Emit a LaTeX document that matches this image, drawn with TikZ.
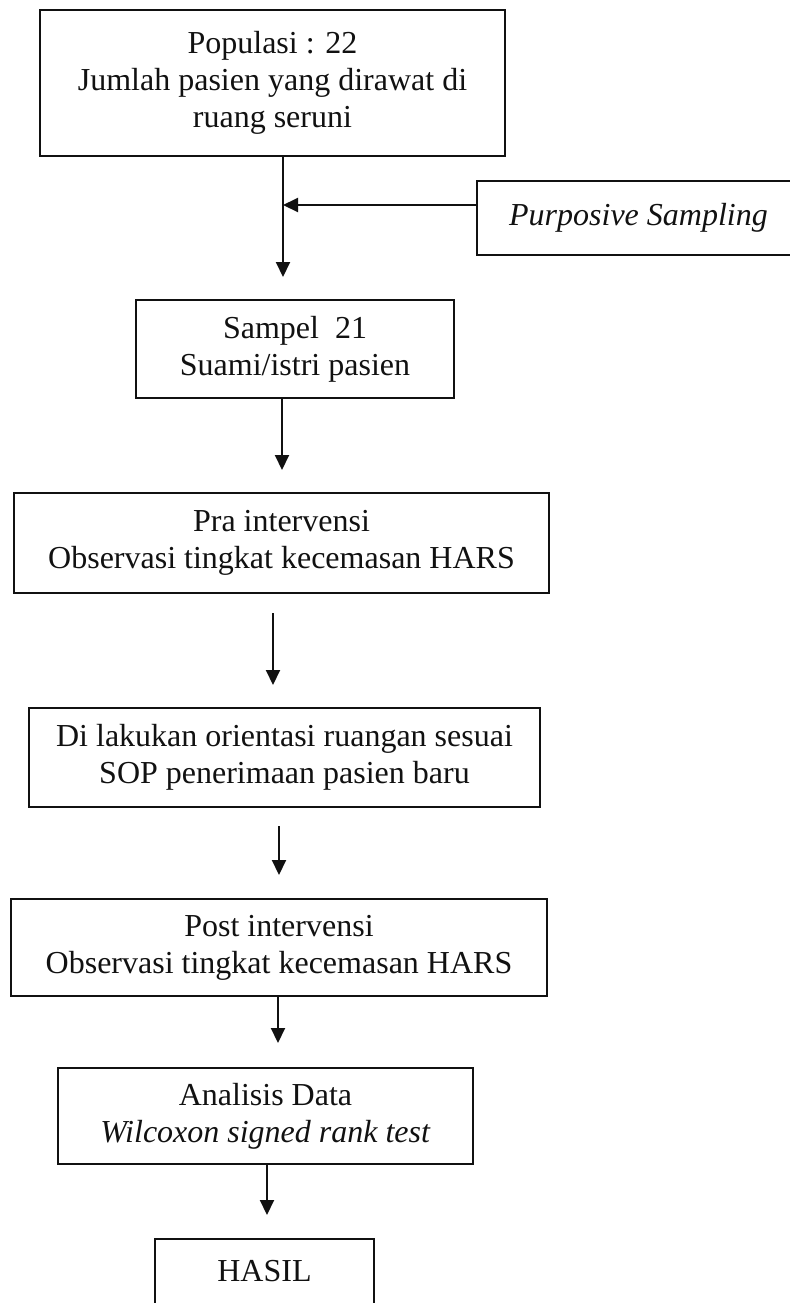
\documentclass[tikz,border=0pt]{standalone}
\usepackage{fontspec}
\setmainfont{Liberation Serif}
\usetikzlibrary{arrows.meta, calc}
\definecolor{Ink}{HTML}{111111}
\tikzset{
  box/.style={
    rectangle, draw=Ink, text=Ink,
    font=\fontsize{16}{18.5}\selectfont, align=center,
    inner sep=0pt, line width=1.2pt,
  },
  arr/.style={
    -{Triangle[length=7.5pt,width=7pt]},
    line width=1pt, color=Ink,
  },
}

\begin{document}
\begin{tikzpicture}[x=0.5pt,y=-0.5pt]
  \useasboundingbox (0,0) rectangle (789,1303);

    % main column
    \node[box, minimum width=232.5pt, minimum height=73pt] (pop) at (272.5,83)
          {Populasi : 22\\Jumlah pasien yang dirawat di\\ruang seruni};
    \node[box, minimum width=161.5pt, minimum height=37pt] (purp) at (638.5,218)
          {\textit{Purposive Sampling}};
    \node[box, minimum width=159pt, minimum height=49pt] (samp) at (295,349)
          {Sampel\ \ 21\\Suami/istri pasien};
    \node[box, minimum width=267.5pt, minimum height=50pt] (pra) at (281.5,543)
          {Pra intervensi\\Observasi tingkat kecemasan HARS};
    \node[box, minimum width=255.5pt, minimum height=49.5pt] (sop) at (284.5,757.5)
          {Di lakukan orientasi ruangan sesuai\\SOP penerimaan pasien baru};
    \node[box, minimum width=268pt, minimum height=48.5pt] (post) at (279,947.5)
          {Post intervensi\\Observasi tingkat kecemasan HARS};
    \node[box, minimum width=207.5pt, minimum height=48pt] (anal) at (265.5,1116)
          {Analisis Data\\\textit{Wilcoxon signed rank test}};
    \node[box, minimum width=109.5pt, text height=21pt, text depth=30pt,
          anchor=north] (hasil) at (264.5,1238) {HASIL};

    % arrow ends
    \coordinate (j1) at (283,205);
    \coordinate (t1) at (283,277);
    \coordinate (t2) at (282,470);
    \coordinate (s3) at (273,613);
    \coordinate (t3) at (273,685);
    \coordinate (s4) at (279,826);
    \coordinate (t4) at (279,875);
    \coordinate (t5) at (278,1043);
    \coordinate (t6) at (267,1215);

    \draw[arr] (pop.south -| t1) -- (t1);
    \draw[arr] (purp.west |- j1) -- (j1);
    \draw[arr] (samp.south -| t2) -- (t2);
    \draw[arr] (s3) -- (t3);
    \draw[arr] (s4) -- (t4);
    \draw[arr] (post.south -| t5) -- (t5);
    \draw[arr] (anal.south -| t6) -- (t6);

\end{tikzpicture}
\end{document}
